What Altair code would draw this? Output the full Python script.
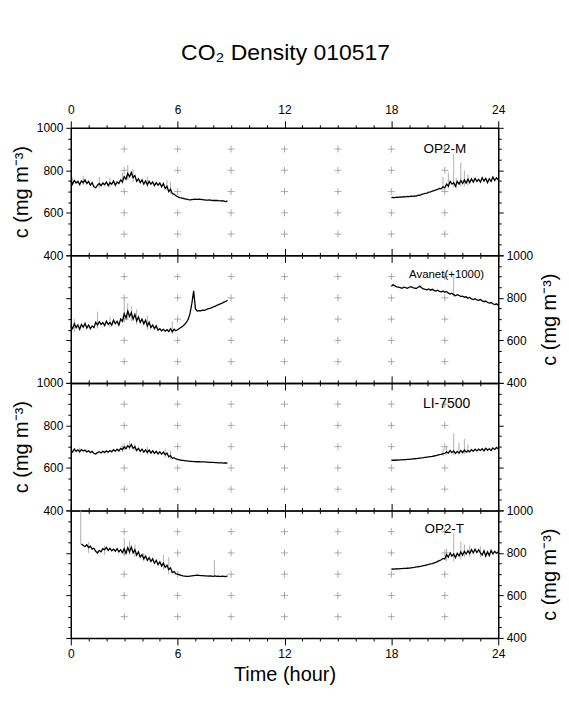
import altair as alt
import pandas as pd

FONT = "Liberation Sans"

# ---------------- data ----------------
HOURS_AM = [round(0.1 * i, 1) for i in range(89)]          # 0.0 .. 8.8
HOURS_PM = [round(18 + 0.1 * i, 1) for i in range(61)]     # 18.0 .. 24.0
HOURS_T_AM = [round(0.6 + 0.1 * i, 1) for i in range(83)]  # 0.6 .. 8.8

op2m_am = [750, 735, 752, 740, 748, 733, 750, 742, 755, 738,
           748, 730, 742, 722, 718, 730, 738, 728, 740, 732,
           745, 728, 742, 735, 750, 730, 745, 738, 755, 745,
           770, 758, 785, 770, 790, 765, 775, 748, 760, 742,
           755, 735, 750, 732, 748, 735, 745, 728, 742, 730,
           740, 722, 738, 715, 725, 700, 712, 690, 688, 680,
           676, 672, 670, 668, 666, 664, 662, 661, 662, 663,
           664, 663, 664, 663, 662, 661, 660, 660, 661, 659,
           658, 658, 659, 657, 656, 657, 655, 653, 656]
op2m_pm = [672, 673, 672, 674, 673, 675, 674, 676, 675, 677,
           676, 678, 677, 680, 679, 683, 682, 687, 689, 692,
           693, 697, 699, 702, 704, 708, 710, 715, 713, 722,
           718, 735, 725, 748, 735, 742, 725, 748, 735, 752,
           738, 755, 740, 758, 742, 760, 745, 762, 748, 758,
           745, 765, 750, 762, 742, 760, 748, 768, 752, 765,
           755]
op2m_spk_h = [0.1, 0.7, 1.6, 2.2, 2.9, 3.2, 3.5, 4.3, 5.4, 5.6, 20.9, 21.2, 21.5, 21.65, 21.9, 22.1, 22.3]
op2m_spk_lo = [725, 730, 715, 720, 735, 755, 745, 720, 705, 690, 705, 715, 720, 715, 725, 725, 730]
op2m_spk_hi = [765, 775, 770, 765, 790, 825, 805, 770, 755, 745, 770, 790, 878, 765, 836, 800, 780]

avanet_am = [668, 655, 678, 660, 672, 652, 675, 662, 680, 658,
             672, 655, 668, 660, 685, 672, 688, 675, 684, 670,
             690, 676, 684, 672, 695, 678, 690, 672, 700, 690,
             725, 705, 738, 712, 730, 700, 722, 692, 710, 685,
             700, 678, 695, 668, 685, 660, 672, 655, 668, 648,
             655, 645, 652, 643, 650, 642, 655, 640, 652, 645,
             650, 656, 662, 668, 676, 686, 700, 728, 775, 833,
             748, 738, 740, 739, 742, 741, 745, 748, 750, 753,
             758, 760, 765, 768, 772, 775, 780, 783, 788]
avanet_pm = [855, 862, 856, 852, 850, 848, 845, 850, 848, 845,
             850, 853, 848, 846, 844, 850, 855, 848, 842, 840,
             838, 842, 836, 840, 835, 832, 836, 830, 828, 832,
             826, 830, 822, 818, 822, 815, 810, 815, 812, 806,
             808, 803, 805, 798, 802, 795, 792, 796, 790, 788,
             792, 786, 782, 785, 778, 775, 778, 772, 768, 772,
             765]
avanet_spk_h = [0.2, 1.5, 2.2, 3.0, 3.2, 3.4, 3.7, 4.3, 5.7, 21.5]
avanet_spk_lo = [640, 655, 660, 690, 695, 690, 675, 650, 630, 805]
avanet_spk_hi = [700, 735, 710, 790, 775, 760, 745, 715, 690, 905]

li_am = [682, 675, 688, 678, 685, 676, 686, 680, 684, 675,
         680, 672, 678, 668, 665, 672, 676, 670, 678, 673,
         680, 674, 682, 676, 686, 678, 688, 680, 692, 686,
         698, 690, 705, 695, 710, 692, 700, 682, 692, 678,
         688, 674, 685, 672, 684, 670, 680, 668, 678, 666,
         676, 664, 674, 662, 670, 652, 658, 645, 648, 642,
         640, 638, 636, 635, 634, 633, 632, 631, 631, 630,
         630, 629, 629, 628, 628, 628, 627, 627, 626, 626,
         626, 625, 625, 624, 624, 624, 623, 623, 622]
li_pm = [636, 637, 636, 638, 637, 638, 638, 639, 639, 640,
         640, 641, 642, 643, 644, 645, 646, 647, 648, 650,
         651, 652, 653, 654, 656, 658, 660, 662, 664, 667,
         668, 676, 670, 682, 672, 680, 668, 678, 670, 682,
         672, 684, 674, 682, 676, 686, 678, 688, 680, 688,
         682, 690, 680, 692, 684, 690, 682, 694, 686, 696,
         690]
li_spk_h = [0.5, 2.9, 3.3, 3.6, 4.3, 5.3, 5.6, 20.9, 21.1, 21.5, 21.8, 22.1, 22.3]
li_spk_lo = [668, 675, 685, 680, 662, 650, 640, 655, 660, 660, 662, 665, 668]
li_spk_hi = [695, 705, 725, 715, 700, 690, 680, 690, 700, 763, 720, 737, 710]

op2t_am = [842, 835, 830, 838, 825, 832, 818, 822, 808, 800, 812, 805,
           820, 815, 826, 812, 822, 810, 818, 808, 820, 805, 815, 802,
           820, 798, 825, 805, 828, 800, 815, 790, 805, 780,
           792, 772, 785, 765, 778, 760, 772, 752, 765, 745,
           758, 738, 752, 732, 742, 722, 730, 708, 712, 702,
           700, 697, 694, 692, 691, 690, 690, 691, 692, 693,
           694, 695, 694, 693, 693, 692, 692, 691, 692, 691,
           690, 692, 690, 691, 689, 691, 690, 689, 692]
op2t_pm = [724, 725, 724, 726, 725, 726, 726, 727, 727, 728,
           729, 730, 731, 732, 734, 735, 737, 738, 740, 742,
           744, 746, 748, 750, 753, 756, 760, 764, 768, 774,
           772, 792, 780, 800, 785, 795, 778, 798, 786, 805,
           790, 808, 795, 810, 798, 815, 800, 818, 802, 815,
           800, 790, 810, 785, 805, 788, 812, 795, 808, 798,
           805]
op2t_spk_h = [0.56, 1.0, 1.9, 3.0, 3.3, 3.6, 4.1, 5.2, 5.5, 8.06, 21.1, 21.5, 21.9, 22.1, 22.4, 23.0]
op2t_spk_lo = [840, 800, 790, 790, 790, 780, 760, 720, 700, 690, 760, 760, 770, 780, 780, 780]
op2t_spk_hi = [1000, 850, 835, 869, 855, 840, 800, 790, 780, 766, 820, 892, 853, 840, 835, 830]

GRID_H = [3, 6, 9, 12, 15, 18, 21]
GRID_C = [500, 600, 700, 800, 900]

X_TICKS = list(range(0, 25))
Y_TICKS = list(range(400, 1001, 50))

NAMES = ["OP2-M", "Avanet(+1000)", "LI-7500", "OP2-T"]
LABEL_H = [21.0, 21.1, 21.1, 20.97]
LABEL_C = [902, 906, 902, 914]
LABEL_SIZE = [13.5, 11.5, 14, 13.5]

Y_TITLE = "c (mg m\u207b\u00b3)"
X_TITLE = "Time (hour)"
TITLE = "CO\u2082 Density 010517"

# ---------------- helpers ----------------
grid_df = pd.DataFrame([(h, c) for h in GRID_H for c in GRID_C], columns=["h", "c"])
xs = alt.Scale(domain=[0, 24], nice=False, zero=False)
ys = alt.Scale(domain=[400, 1000], nice=False, zero=False)


def xaxis(orient, labels, title=None):
    kw = dict(orient=orient, values=X_TICKS, labels=labels, grid=False,
              domain=True, domainColor="black", domainWidth=1.5,
              ticks=True, tickColor="black", tickWidth=1,
              tickSize={"condition": {"test": "datum.value % 6 === 0", "value": 7}, "value": 3},
              labelExpr="datum.value % 6 === 0 ? datum.value : ''",
              labelFont=FONT, labelFontSize=12, labelColor="black", labelPadding=4,
              labelFlush=False, labelOverlap=False)
    if title:
        kw.update(title=title, titleFont=FONT, titleFontSize=20, titleFontWeight="normal",
                  titleColor="black", titlePadding=5)
    else:
        kw["title"] = None
    return alt.Axis(**kw)


def yaxis(orient, labels, title=None):
    kw = dict(orient=orient, values=Y_TICKS, labels=labels, grid=False,
              domain=True, domainColor="black", domainWidth=1.5,
              ticks=True, tickColor="black", tickWidth=1,
              tickSize={"condition": {"test": "datum.value % 200 === 0", "value": 5}, "value": 3},
              labelExpr="datum.value % 200 === 0 ? datum.value : ''",
              labelFont=FONT, labelFontSize=12, labelColor="black", labelPadding=3,
              labelFlush=False, labelOverlap=False)
    if title:
        kw.update(title=title, titleFont=FONT, titleFontSize=20, titleFontWeight="normal",
                  titleColor="black", titlePadding=5, titleAngle=270)
        if orient == "right":
            kw.update(titleBaseline="top", titlePadding=7)
    else:
        kw["title"] = None
    return alt.Axis(**kw)


def panel(idx, am_h, am_c, pm_h, pm_c, sh, slo, shi, left_labels, top_labels, bottom_labels):
    line_df = pd.DataFrame({"h": am_h + pm_h, "c": am_c + pm_c,
                            "seg": ["am"] * len(am_h) + ["pm"] * len(pm_h)})
    spk_df = pd.DataFrame({"h": sh, "lo": slo, "hi": shi})
    txt_df = pd.DataFrame({"h": [LABEL_H[idx]], "c": [LABEL_C[idx]], "t": [NAMES[idx]]})

    y_left = yaxis("left", left_labels, Y_TITLE if left_labels else None)
    y_right = yaxis("right", not left_labels, Y_TITLE if not left_labels else None)
    x_bottom = xaxis("bottom", bottom_labels, X_TITLE if bottom_labels else None)
    x_top = xaxis("top", top_labels)

    cross = alt.Chart(grid_df).mark_point(
        shape="M-1,0L1,0M0,-1L0,1", size=49, filled=False,
        stroke="#8c8c8c", strokeWidth=0.7, opacity=1
    ).encode(x=alt.X("h:Q", scale=xs, axis=x_bottom),
             y=alt.Y("c:Q", scale=ys, axis=y_left))
    dummy = alt.Chart(grid_df).mark_point(opacity=0).encode(
        x=alt.X("h:Q", scale=xs, axis=x_top),
        y=alt.Y("c:Q", scale=ys, axis=y_right))
    spikes = alt.Chart(spk_df).mark_rule(color="#9a9a9a", strokeWidth=0.8).encode(
        x=alt.X("h:Q", scale=xs, axis=None),
        y=alt.Y("lo:Q", scale=ys, axis=None), y2="hi:Q")
    line = alt.Chart(line_df).mark_line(color="black", strokeWidth=1.3).encode(
        x=alt.X("h:Q", scale=xs, axis=None),
        y=alt.Y("c:Q", scale=ys, axis=None), detail="seg:N")
    text = alt.Chart(txt_df).mark_text(font=FONT, fontSize=LABEL_SIZE[idx], color="black",
                                       align="center", baseline="middle").encode(
        x=alt.X("h:Q", scale=xs, axis=None),
        y=alt.Y("c:Q", scale=ys, axis=None), text="t:N")
    return alt.layer(cross, dummy, spikes, line, text).resolve_axis(
        x="independent", y="independent").properties(width=429, height=128)


p1 = panel(0, HOURS_AM, op2m_am, HOURS_PM, op2m_pm, op2m_spk_h, op2m_spk_lo, op2m_spk_hi,
           True, True, False)
p2 = panel(1, HOURS_AM, avanet_am, HOURS_PM, avanet_pm, avanet_spk_h, avanet_spk_lo, avanet_spk_hi,
           False, False, False)
p3 = panel(2, HOURS_AM, li_am, HOURS_PM, li_pm, li_spk_h, li_spk_lo, li_spk_hi,
           True, False, False)
p4 = panel(3, HOURS_T_AM, op2t_am, HOURS_PM, op2t_pm, op2t_spk_h, op2t_spk_lo, op2t_spk_hi,
           False, False, True)

chart = alt.vconcat(p1, p2, p3, p4, spacing=0, bounds="flush").properties(
    title=alt.TitleParams(TITLE, font=FONT, fontSize=23, fontWeight="normal", color="black",
                          anchor="middle", offset=39),
    padding={"left": 2, "top": 32, "right": 0, "bottom": 5},
).configure_view(strokeWidth=0).configure(font=FONT, background="white")

chart.save("out.html", embed_options={"renderer": "svg", "actions": False})
